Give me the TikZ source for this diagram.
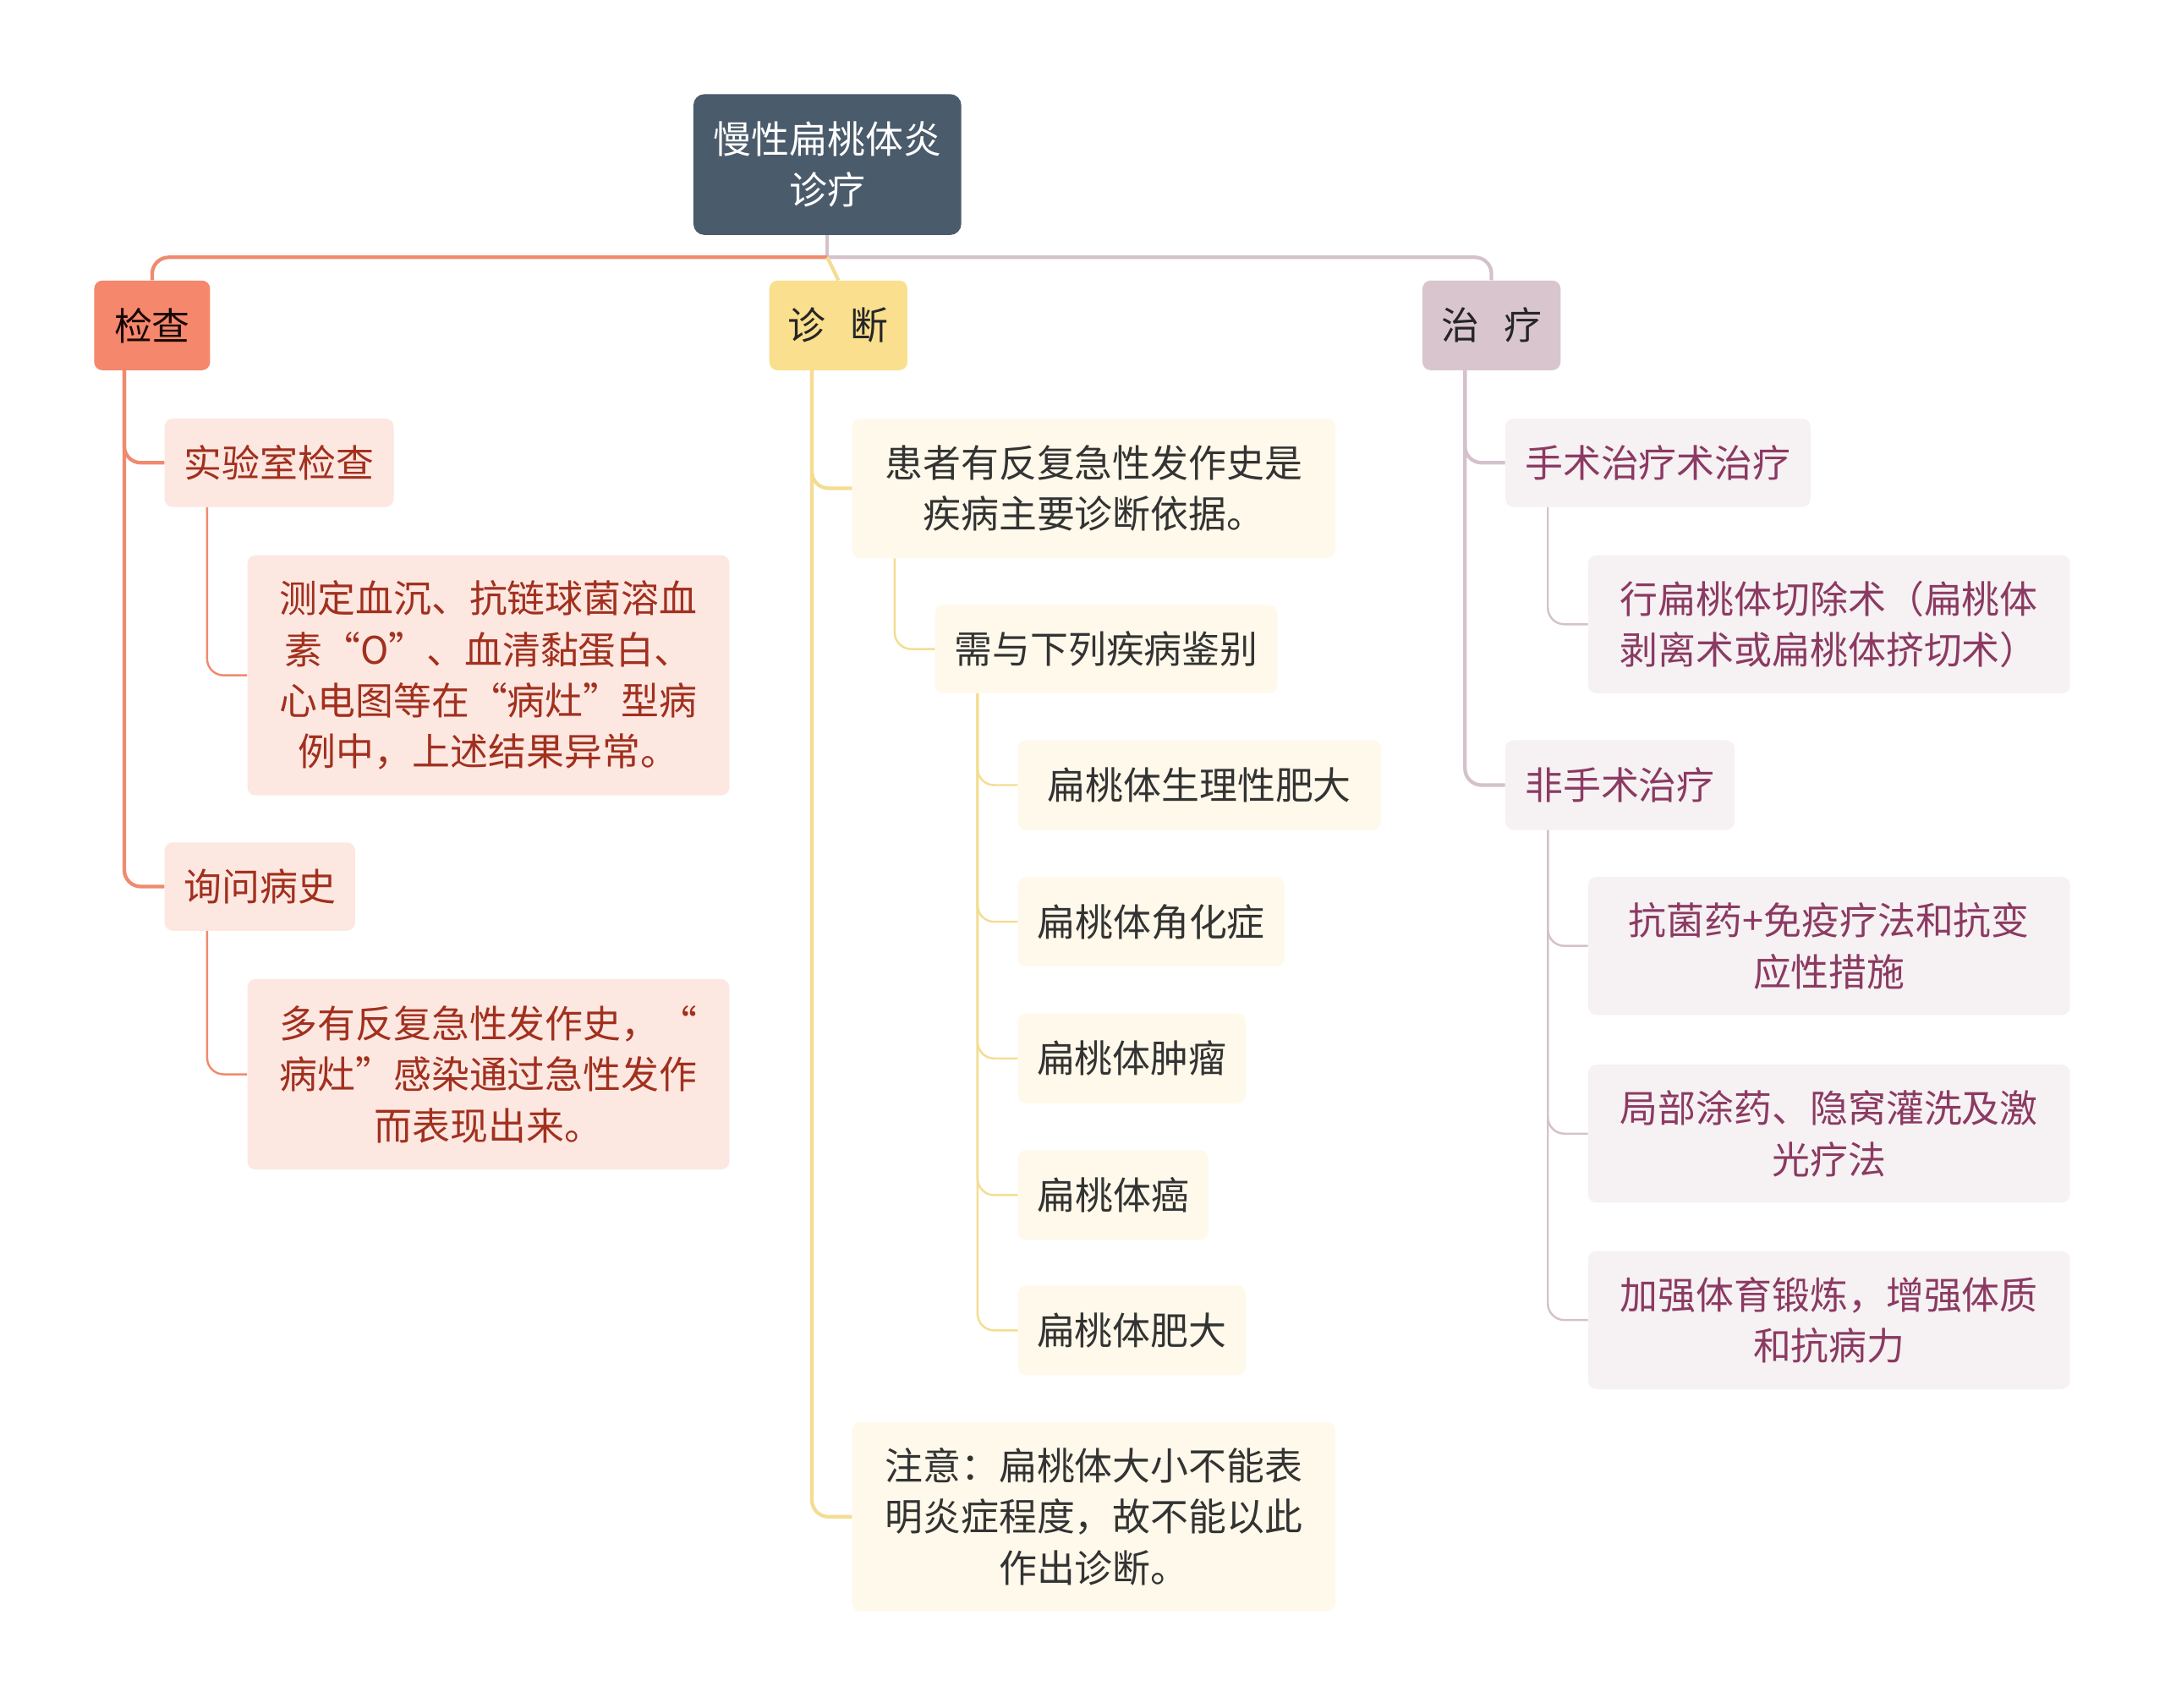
\documentclass[tikz,border=0pt]{standalone}
\usepackage{fontspec}
\newfontfamily\cjk{Noto Sans CJK SC}
\usetikzlibrary{calc}
\definecolor{rootC}{HTML}{4A5B6B}
\definecolor{jcA}{HTML}{F5876C}
\definecolor{jcAln}{HTML}{F08A6E}
\definecolor{jcAbg}{HTML}{FDE7E1}
\definecolor{jcAtx}{HTML}{A1301E}
\definecolor{zdB}{HTML}{F9DF8E}
\definecolor{zdBln}{HTML}{F4DD92}
\definecolor{zdBbg}{HTML}{FEF9EA}
\definecolor{zdBtx}{HTML}{333333}
\definecolor{zlC}{HTML}{D9C5CE}
\definecolor{zlCln}{HTML}{D5C1CB}
\definecolor{zlCbg}{HTML}{F6F1F3}
\definecolor{zlCtx}{HTML}{8B3A62}

\tikzset{
  box/.style={anchor=north west, rounded corners=6pt, inner sep=0pt,
    align=center, font=\cjk\fontsize{27.5}{37}\selectfont},
  jleaf/.style={box, fill=jcAbg, text=jcAtx},
  yleaf/.style={box, fill=zdBbg, text=zdBtx},
  cleaf/.style={box, fill=zlCbg, text=zlCtx},
  lnA/.style={draw=jcAln, line width=2.6pt, rounded corners=12pt},
  lnY/.style={draw=zdBln, line width=2.6pt, rounded corners=12pt},
  lnC/.style={draw=zlCln, line width=2.6pt, rounded corners=12pt},
  sub/.style={line width=1.5pt}
}

\begin{document}
\begin{tikzpicture}[x=1pt, y=-1pt]
  \path[fill=white, use as bounding box] (0,0) rectangle (1568,1237);

  % root and the three headings
  \node[box, fill=rootC, text=white, rounded corners=8pt,
        minimum width=194pt, minimum height=102pt] (root) at (502,68)
        {慢性扁桃体炎\\诊疗};
  \node[box, fill=jcA, text=black!85!jcAtx, minimum width=84pt,
        minimum height=65pt] (jc) at (68,203) {检查};
  \node[box, fill=zdB, text=black!85, minimum width=100pt,
        minimum height=65pt] (zd) at (557,203) {诊\hspace{0.65em}断};
  \node[box, fill=zlC, text=black!85, minimum width=100pt,
        minimum height=65pt] (zl) at (1030,203) {治\hspace{0.65em}疗};

  \coordinate (hub) at ($(root.south)+(0,16)$);
  \draw[lnC] (root.south) -- (hub);
  \draw[lnA] (hub) -| (jc.north);
  \draw[lnC] (hub) -| (zl.north);
  \draw[lnY] (hub) -- (zd.north);

  % 检查 branch
  \node[jleaf, minimum width=166pt, minimum height=64pt] (jc1) at (119,303) {实验室检查};
  \node[jleaf, minimum width=349pt, minimum height=174pt] (jc1a) at (179,402)
        {测定血沉、抗链球菌溶血\\素“O”、血清黏蛋白、\\心电图等在“病灶”型病\\例中，上述结果异常。};
  \node[jleaf, minimum width=138pt, minimum height=64pt] (jc2) at (119,610) {询问病史};
  \node[jleaf, minimum width=349pt, minimum height=138pt] (jc2a) at (179,709)
        {多有反复急性发作史，“\\病灶”感染通过急性发作\\而表现出来。};
  \foreach \c in {jc1, jc2}
    \draw[lnA] ($(jc.south -| \c.west)+(-29,0)$) |- (\c.west);
  \draw[lnA, sub] ($(jc1.south -| jc1a.west)+(-29,0)$) |- (jc1a.west);
  \draw[lnA, sub] ($(jc2.south -| jc2a.west)+(-29,0)$) |- (jc2a.west);

  % 诊断 branch
  \node[yleaf, minimum width=350pt, minimum height=101pt] (zd1) at (617,303)
        {患者有反复急性发作史是\\疾病主要诊断依据。};
  \node[yleaf, minimum width=248pt, minimum height=64pt] (zd1a) at (677,438) {需与下列疾病鉴别};
  \node[yleaf, minimum width=350pt, minimum height=137pt] (zd2) at (617,1030)
        {注意：扁桃体大小不能表\\明炎症程度，故不能以此\\作出诊断。};
  \foreach \c in {zd1, zd2}
    \draw[lnY] ($(zd.south -| \c.west)+(-29,0)$) |- (\c.west);
  \draw[lnY, sub] ($(zd1.south -| zd1a.west)+(-29,0)$) |- (zd1a.west);
  \foreach \y/\w/\t [count=\n] in {536/263/扁桃体生理性肥大, 635/193/扁桃体角化症,
      734/165/扁桃体肿瘤, 833/138/扁桃体癌, 931/165/扁桃体肥大}{
    \node[yleaf, minimum width=\w pt, minimum height=65pt] (dx\n) at (737,\y) {\t};
    \draw[lnY, sub] ($(zd1a.south -| dx\n.west)+(-29,0)$) |- (dx\n.west);
  }

  % 治疗 branch
  \node[cleaf, minimum width=221pt, minimum height=64pt] (zl1) at (1090,303) {手术治疗术治疗};
  \node[cleaf, minimum width=349pt, minimum height=100pt] (zl1a) at (1150,402)
        {行扁桃体切除术（扁桃体\\剥离术或扁桃体挤切术）};
  \node[cleaf, minimum width=166pt, minimum height=65pt] (zl2) at (1090,536) {非手术治疗};
  \foreach \c in {zl1, zl2}
    \draw[lnC] ($(zl.south -| \c.west)+(-29,0)$) |- (\c.west);
  \draw[lnC, sub] ($(zl1.south -| zl1a.west)+(-29,0)$) |- (zl1a.west);
  \foreach \y/\t [count=\n] in {635/{抗菌药+免疫疗法和抗变\\应性措施},
      771/{局部涂药、隐窝灌洗及激\\光疗法}, 906/{加强体育锻炼，增强体质\\和抗病力}}{
    \node[cleaf, minimum width=349pt, minimum height=100pt] (tr\n) at (1150,\y) {\t};
    \draw[lnC, sub] ($(zl2.south -| tr\n.west)+(-29,0)$) |- (tr\n.west);
  }
\end{tikzpicture}
\end{document}
